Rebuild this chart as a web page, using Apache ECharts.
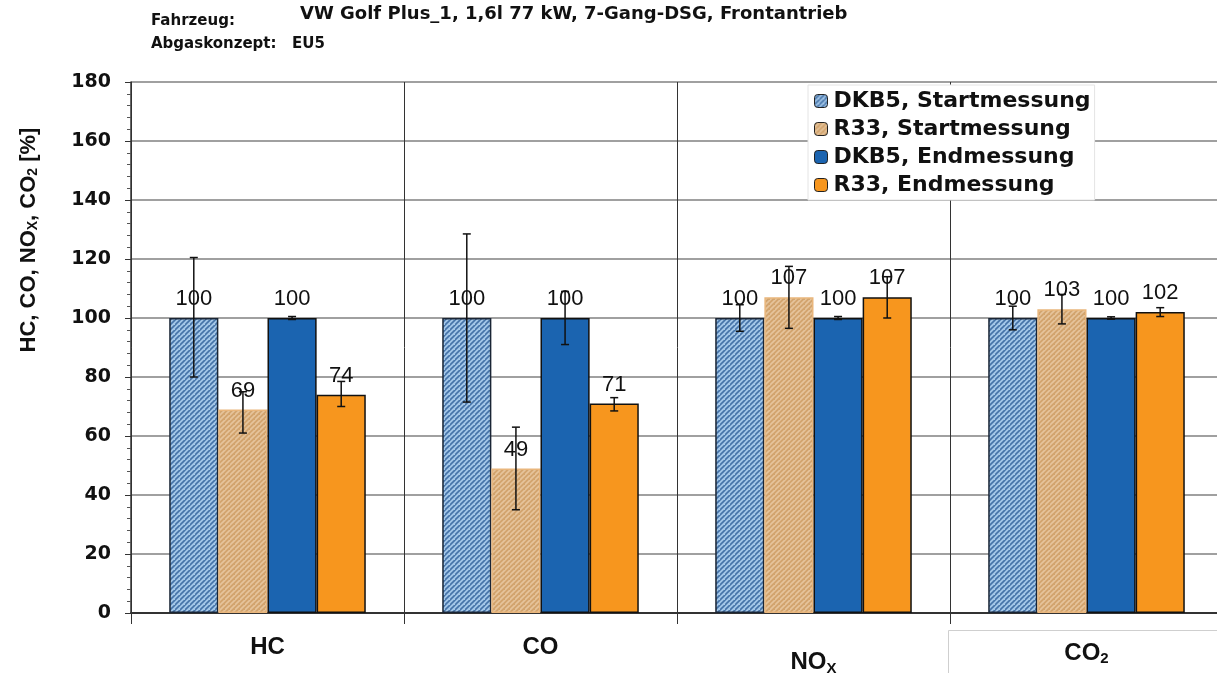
<!DOCTYPE html>
<html>
<head>
<meta charset="utf-8">
<script src="https://cdn.jsdelivr.net/npm/echarts@6/dist/echarts.min.js"></script>
<style>
  html, body { margin: 0; padding: 0; background: #fff; }
  #main { width: 1217px; height: 673px; }
</style>
</head>
<body>
<div id="main"></div>
<script>
// categories + values
var categories = ['HC', 'CO', 'NOx', 'CO2'];
var seriesNames = ['DKB5, Startmessung', 'R33, Startmessung', 'DKB5, Endmessung', 'R33, Endmessung'];
var dkb5Start = [100, 100, 100, 100];
var r33Start = [69, 49, 107, 103];
var dkb5End = [100, 100, 100, 100];
var r33End = [74, 71, 107, 102];
// error bars [low, high]
var dkb5StartErr = [[80, 120.5], [71.5, 128.5], [95.5, 104.5], [96, 104]];
var r33StartErr = [[61, 75], [35, 63], [96.5, 117.5], [98, 108]];
var dkb5EndErr = [[99.5, 100.5], [91, 109], [99.5, 100.5], [99.6, 100.4]];
var r33EndErr = [[70, 78.5], [68.5, 73], [100, 114], [100.5, 103.5]];
var yTicks = [0, 20, 40, 60, 80, 100, 120, 140, 160, 180];

var values = [dkb5Start, r33Start, dkb5End, r33End];
var errs = [dkb5StartErr, r33StartErr, dkb5EndErr, r33EndErr];

var FONT = 'Liberation Sans, Arial, sans-serif';
var WIDE = 'DejaVu Sans, Verdana, sans-serif';

function hatch(bg, line) {
  var c = document.createElement('canvas');
  var s = 5;
  c.width = s; c.height = s;
  var ctx = c.getContext('2d');
  ctx.fillStyle = bg;
  ctx.fillRect(0, 0, s, s);
  ctx.strokeStyle = line;
  ctx.lineWidth = 1.6;
  ctx.beginPath();
  ctx.moveTo(-1, s + 1); ctx.lineTo(s + 1, -1);
  ctx.moveTo(-s - 1, s + 1); ctx.lineTo(1, -1);
  ctx.moveTo(s - 1, 2 * s + 1); ctx.lineTo(2 * s + 1, s - 1);
  ctx.stroke();
  return c;
}

var fills = [
  { image: hatch('#a3c6e8', '#4573a8'), repeat: 'repeat' },
  { image: hatch('#d2a46e', '#e6c49c'), repeat: 'repeat' },
  '#1b64b0',
  '#f7961e'
];
var borders = ['#1a2535', '#e9b67c', '#111', '#111'];

var barCatGap = 0.28;

var chartDom = document.getElementById('main');
var myChart = echarts.init(chartDom, null, { renderer: 'canvas' });

var series = [];
for (let i = 0; i < 4; i++) {
  series.push({
    name: seriesNames[i],
    type: 'bar',
    barGap: '0%',
    barCategoryGap: (barCatGap * 100) + '%',
    data: values[i],
    itemStyle: { color: fills[i], borderColor: borders[i], borderWidth: 1.5 },
    label: {
      show: true,
      position: 'top',
      distance: 8,
      fontFamily: FONT,
      fontSize: 22,
      color: '#111'
    },
    z: 2
  });
}

// error bars
for (let i = 0; i < 4; i++) {
  series.push({
    type: 'custom',
    silent: true,
    z: 5,
    data: errs[i].map(function (e, k) { return [k, e[0], e[1]]; }),
    renderItem: function (params, api) {
      var band = api.size([1, 0])[0];
      var bw = band * (1 - barCatGap) / 4;
      var off = -band * (1 - barCatGap) / 2 + bw * (i + 0.5);
      var lo = api.coord([api.value(0), api.value(1)]);
      var hi = api.coord([api.value(0), api.value(2)]);
      var x = lo[0] + off;
      var cap = 4;
      var st = { stroke: '#111', lineWidth: 1.5 };
      return {
        type: 'group',
        children: [
          { type: 'line', shape: { x1: x, y1: lo[1], x2: x, y2: hi[1] }, style: st },
          { type: 'line', shape: { x1: x - cap, y1: lo[1], x2: x + cap, y2: lo[1] }, style: st },
          { type: 'line', shape: { x1: x - cap, y1: hi[1], x2: x + cap, y2: hi[1] }, style: st }
        ]
      };
    }
  });
}

var option = {
  animation: false,
  backgroundColor: '#fff',
  grid: { left: 131, top: 82, width: 1092, height: 531, outerBoundsMode: 'none', containLabel: false },
  legend: {
    data: seriesNames,
    orient: 'vertical',
    left: 808,
    top: 85,
    itemWidth: 13,
    itemHeight: 13,
    itemGap: 6,
    padding: [5, 4, 4, 6],
    backgroundColor: '#fff',
    borderColor: '#e4e4e4',
    borderWidth: 1,
    textStyle: {
      fontFamily: WIDE,
      fontWeight: 'bold',
      fontSize: 22,
      color: '#111',
      padding: [0, 0, 0, 1]
    },
    itemStyle: { borderColor: '#222', borderWidth: 1 }
  },
  xAxis: {
    type: 'category',
    data: categories,
    axisLine: { lineStyle: { color: '#333', width: 2 } },
    axisTick: { show: true, interval: 0, length: 11, lineStyle: { color: '#333', width: 1 } },
    splitLine: { show: true, interval: 0, lineStyle: { color: '#333', width: 1 } },
    axisLabel: {
      interval: 0,
      margin: 22,
      fontFamily: FONT,
      fontWeight: 'bold',
      fontSize: 24,
      color: '#111',
      formatter: function (v) {
        if (v === 'NOx') return '{low|NO}{lowsub|X}';
        if (v === 'CO2') return '{mid|CO}{midsub|2}';
        return '{n|' + v + '}';
      },
      rich: {
        n: { fontFamily: FONT, fontWeight: 'bold', fontSize: 24, color: '#111' },
        mid: { fontFamily: FONT, fontWeight: 'bold', fontSize: 24, color: '#111', padding: [6, 0, 0, 0] },
        midsub: { fontFamily: FONT, fontWeight: 'bold', fontSize: 15, color: '#111', padding: [16, 0, 0, 0] },
        low: { fontFamily: FONT, fontWeight: 'bold', fontSize: 24, color: '#111', padding: [14, 0, 0, 0] },
        lowsub: { fontFamily: FONT, fontWeight: 'bold', fontSize: 15, color: '#111', padding: [26, 0, 0, 0] }
      }
    }
  },
  yAxis: {
    type: 'value',
    min: yTicks[0],
    max: yTicks[yTicks.length - 1],
    interval: 20,
    axisLine: { show: true, lineStyle: { color: '#333', width: 1.5 } },
    axisTick: { show: true, inside: false, length: 6, lineStyle: { color: '#333' } },
    minorTick: { show: true, splitNumber: 5, length: 4, lineStyle: { color: '#555' } },
    splitLine: { show: true, lineStyle: { color: '#a0a0a0', width: 2 } },
    axisLabel: {
      margin: 20,
      fontFamily: WIDE,
      fontWeight: 'bold',
      fontSize: 19,
      color: '#111'
    }
  },
  graphic: [
    {
      type: 'text', left: 151, top: 14,
      style: { text: 'Fahrzeug:', font: 'bold 15px "DejaVu Sans", Arial', fill: '#111' }
    },
    {
      type: 'text', left: 300, top: 5,
      style: { text: 'VW Golf Plus_1, 1,6l 77 kW, 7-Gang-DSG, Frontantrieb', font: 'bold 18px "DejaVu Sans", sans-serif', fill: '#111' }
    },
    {
      type: 'text', left: 151, top: 37,
      style: { text: 'Abgaskonzept:', font: 'bold 15px "DejaVu Sans", Arial', fill: '#111' }
    },
    {
      type: 'text', left: 292, top: 37,
      style: { text: 'EU5', font: 'bold 15px "DejaVu Sans", Arial', fill: '#111' }
    },
    {
      type: 'text', x: 29, y: 240, rotation: Math.PI / 2,
      style: {
        text: '{t|HC, CO, NO}{s|X}{t|, CO}{s|2}{t| [%]}',
        align: 'center', verticalAlign: 'middle',
        rich: {
          t: { font: 'bold 22px "Liberation Sans", Arial', fill: '#111' },
          s: { font: 'bold 14px "Liberation Sans", Arial', fill: '#111', padding: [9, 0, 0, 0] }
        }
      }
    },
    {
      type: 'rect', left: 948, top: 630, z: -1,
      shape: { width: 300, height: 60 },
      style: { fill: '#fff', stroke: '#cfcfcf', lineWidth: 1 }
    }
  ],
  series: series
};

window.addEventListener('resize', myChart.resize);
option && myChart.setOption(option);
</script>
</body>
</html>
